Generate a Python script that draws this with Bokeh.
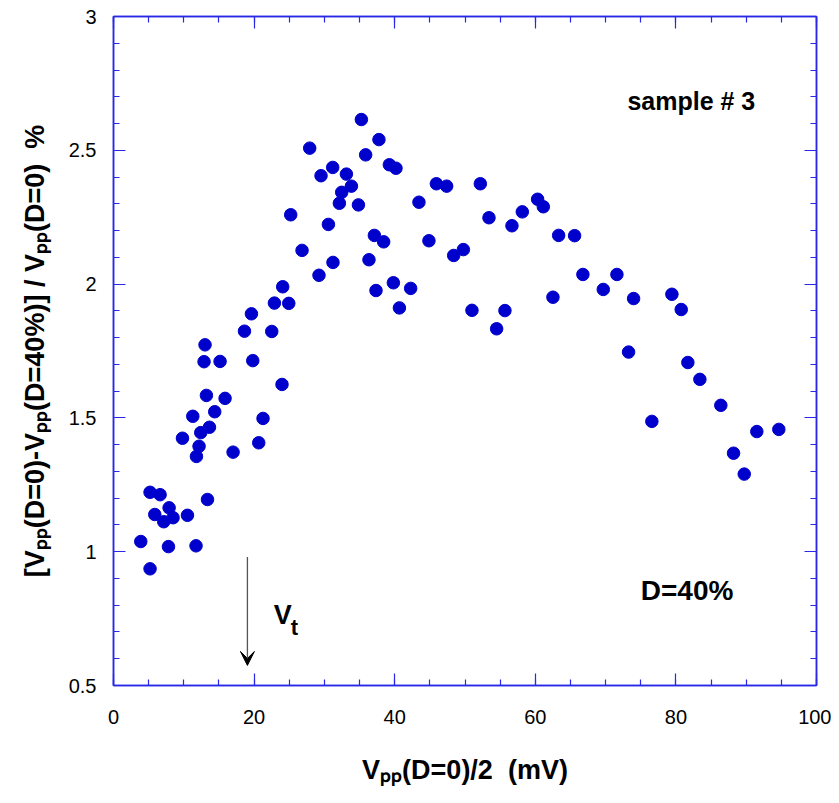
import math
from bokeh.plotting import figure
from bokeh.models import (Range1d, FixedTicker, LinearAxis, Label, Arrow, VeeHead,
                          ColumnDataSource)
from bokeh.embed import file_html
from bokeh.resources import INLINE

# ---------------- data ----------------
vpp_half = [35.26, 37.76, 27.91, 35.87, 39.24, 40.18, 31.18, 29.52, 33.13, 33.84,
            32.46, 32.13, 34.84, 25.21, 30.57, 37.11, 38.43, 26.82, 31.22, 36.34,
            29.23, 39.81, 37.34, 24.07, 22.89, 24.93, 19.62, 18.63, 22.51, 13.02,
            40.67, 12.88, 15.16, 19.81, 23.97, 13.22, 15.87, 11.28, 14.40, 21.27,
            13.65, 12.41, 9.81, 12.17, 20.66, 11.80, 17.01, 5.20, 6.63, 13.37,
            7.91, 5.87, 10.52, 8.47, 7.15, 3.88, 7.82, 11.74, 5.20,
            45.93, 47.39, 52.18, 43.45, 53.41, 56.68, 58.15, 60.33, 61.14, 44.87,
            63.32, 65.59, 48.39, 49.77, 66.77, 71.61, 69.67, 42.27, 62.51, 73.98,
            79.43, 80.76, 50.99, 55.68, 54.50,
            73.27, 81.70, 83.41, 86.39, 76.58, 91.51, 94.64, 88.20, 89.72]
rel_change = [2.615, 2.540, 2.508, 2.483, 2.446, 2.433, 2.436, 2.405, 2.411, 2.366,
              2.343, 2.302, 2.296, 2.259, 2.223, 2.182, 2.158, 2.126, 2.081, 2.091,
              2.033, 2.005, 1.976, 1.990, 1.929, 1.928, 1.889, 1.824, 1.823, 1.773,
              1.911, 1.710, 1.711, 1.714, 1.625, 1.584, 1.573, 1.506, 1.523, 1.498,
              1.465, 1.445, 1.424, 1.394, 1.407, 1.356, 1.372, 1.222, 1.213, 1.195,
              1.164, 1.139, 1.136, 1.127, 1.112, 1.038, 1.019, 1.022, 0.936,
              2.375, 2.366, 2.375, 2.306, 2.248, 2.218, 2.270, 2.317, 2.289, 2.162,
              2.182, 2.181, 2.107, 2.129, 2.036, 2.036, 1.980, 1.984, 1.951, 1.946,
              1.962, 1.905, 1.902, 1.901, 1.833,
              1.746, 1.707, 1.644, 1.547, 1.487, 1.449, 1.457, 1.368, 1.290]

x_major = [0, 20, 40, 60, 80, 100]
x_minor = [0, 5, 10, 15, 20, 25, 30, 35, 40, 45, 50, 55, 60, 65, 70, 75, 80, 85, 90, 95, 100]
y_major = [0.5, 1.0, 1.5, 2.0, 2.5, 3.0]
y_minor = [0.5, 0.6, 0.7, 0.8, 0.9, 1.0, 1.1, 1.2, 1.3, 1.4, 1.5, 1.6, 1.7, 1.8, 1.9,
           2.0, 2.1, 2.2, 2.3, 2.4, 2.5, 2.6, 2.7, 2.8, 2.9, 3.0]

x_title = "V\u209a\u209a(D=0)/2\u00a0\u00a0(mV)"
y_title = "[V\u209a\u209a(D=0)-V\u209a\u209a(D=40%)] / V\u209a\u209a(D=0)\u00a0\u00a0%"

vt_value = 19.05          # threshold V_t marked by the arrow
arrow_y = (0.98, 0.575)

# ---------------- styling ----------------
BLUE = "#2828e6"
DOT = "#0000cc"
FONT = "Liberation Sans"

p = figure(width=831, height=795, x_range=Range1d(0, 100), y_range=Range1d(0.5, 3),
           output_backend="svg", toolbar_location=None,
           min_border_left=113, min_border_right=15, min_border_top=16, min_border_bottom=110)
p.xaxis.visible = False
p.yaxis.visible = False
p.grid.visible = False
p.outline_line_color = BLUE
p.outline_line_width = 1.5
p.background_fill_color = "white"
p.border_fill_color = "white"


def style(ax, ticks, show_labels, standoff):
    ax.axis_line_color = BLUE
    ax.axis_line_width = 1.5
    ax.major_tick_line_color = BLUE
    ax.minor_tick_line_color = BLUE
    ax.major_tick_line_width = 1.2
    ax.minor_tick_line_width = 1.2
    ax.major_tick_in = 12
    ax.major_tick_out = 0
    ax.minor_tick_in = 6
    ax.minor_tick_out = 0
    ax.major_label_text_font = FONT
    ax.major_label_text_color = "black"
    ax.major_label_text_font_size = "20px"
    ax.major_label_standoff = standoff
    ax.axis_label_text_color = "black"
    if not show_labels:
        ax.major_label_overrides = {t: "" for t in ticks}
        ax.major_label_standoff = 0


for side in ["below", "above"]:
    ax = LinearAxis(ticker=FixedTicker(ticks=x_major, minor_ticks=x_minor))
    style(ax, x_major, side == "below", 24)
    if side == "below":
        ax.axis_label = x_title
        ax.axis_label_text_font = FONT
        ax.axis_label_text_font_style = "bold"
        ax.axis_label_text_font_size = "27px"
        ax.axis_label_standoff = 28
    p.add_layout(ax, side)
for side in ["left", "right"]:
    ax = LinearAxis(ticker=FixedTicker(ticks=y_major, minor_ticks=y_minor))
    style(ax, y_major, side == "left", 17)
    if side == "left":
        ax.axis_label = y_title
        ax.axis_label_text_font = FONT
        ax.axis_label_text_font_style = "bold"
        ax.axis_label_text_font_size = "27px"
        ax.axis_label_standoff = 16
    p.add_layout(ax, side)

src = ColumnDataSource(dict(x=vpp_half, y=rel_change))
p.scatter("x", "y", source=src, size=12.5, fill_color=DOT, line_color=DOT)

# arrow marking V_t
p.add_layout(Arrow(x_start=vt_value, y_start=arrow_y[0], x_end=vt_value, y_end=arrow_y[1],
                   line_color="#555555", line_width=1.3,
                   end=VeeHead(size=14, fill_color="black", line_color="black")))


def lab(text, x, y, size):
    p.add_layout(Label(x=x, y=y, text=text,
                       text_font=FONT, text_font_style="bold",
                       text_font_size=f"{size}px", text_color="black",
                       text_align="left", text_baseline="alphabetic"))


lab("sample # 3", 73.1, 2.686, 25)
lab("D=40%", 75.0, 0.855, 28)
lab("V", 22.8, 0.765, 27)
lab("t", 25.2, 0.718, 22)

open("out.html", "w").write(file_html(p, INLINE))
